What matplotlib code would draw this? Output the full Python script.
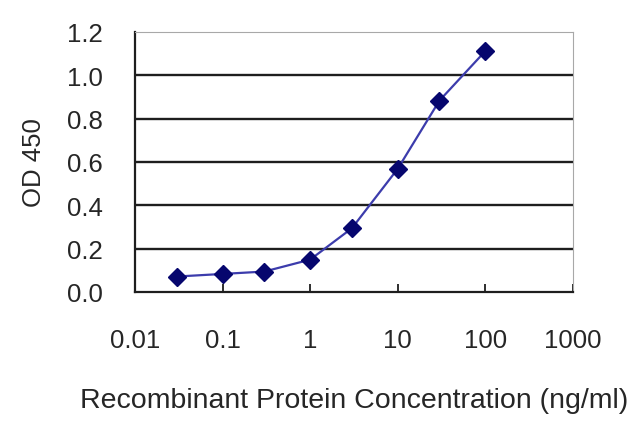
import matplotlib
matplotlib.use("Agg")
import matplotlib.pyplot as plt
from matplotlib.ticker import FixedLocator, NullLocator

# --- Data ---
conc = [0.03, 0.1, 0.3, 1, 3, 10, 30, 100]
od450 = [0.071, 0.083, 0.094, 0.149, 0.294, 0.568, 0.883, 1.111]

x_ticks = [0.01, 0.1, 1, 10, 100, 1000]
x_tick_labels = ["0.01", "0.1", "1", "10", "100", "1000"]
y_ticks = [0.0, 0.2, 0.4, 0.6, 0.8, 1.0, 1.2]
y_tick_labels = ["0.0", "0.2", "0.4", "0.6", "0.8", "1.0", "1.2"]

plt.rcParams['font.family'] = ['Liberation Sans', 'DejaVu Sans']
text_color = '#262626'

fig = plt.figure(figsize=(6.4, 4.27), dpi=100)
ax = fig.add_axes([0.211, 0.314, 0.684, 0.609])

for y in y_ticks[1:-1]:
    ax.axhline(y, color='#1e1e1e', linewidth=1.7, zorder=1)

ax.plot(conc, od450, color='#3c3cac', linewidth=1.6, zorder=2)
ax.plot(conc, od450, linestyle='none', marker='D', markersize=9,
        color='#06066e', zorder=3)

ax.set_xscale('log')
ax.set_xlim(0.01, 1000)
ax.set_ylim(0, 1.2)

ax.xaxis.set_major_locator(FixedLocator(x_ticks))
ax.xaxis.set_minor_locator(NullLocator())
ax.set_xticklabels(x_tick_labels)
ax.set_yticks(y_ticks)
ax.set_yticklabels(y_tick_labels)

ax.tick_params(axis='x', direction='in', length=6, width=1.3, pad=26,
               labelsize=18.5, colors='#1e1e1e', labelcolor=text_color)
ax.tick_params(axis='y', direction='out', length=0, pad=23,
               labelsize=18.5, labelcolor=text_color)

ax.spines['left'].set_color('#1e1e1e')
ax.spines['left'].set_linewidth(1.6)
ax.spines['bottom'].set_color('#1e1e1e')
ax.spines['bottom'].set_linewidth(1.6)
ax.spines['top'].set_color('#a8a8a8')
ax.spines['right'].set_color('#a8a8a8')

ax.set_xlabel("Recombinant Protein Concentration (ng/ml)", fontsize=20.5,
              color=text_color, labelpad=25)
ax.set_ylabel("OD 450", fontsize=18.5, color=text_color, labelpad=15)

fig.savefig("out.png", dpi=100)
